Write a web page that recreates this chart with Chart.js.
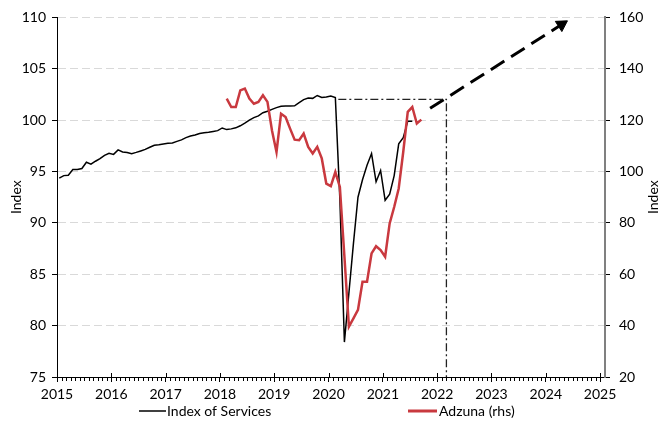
<!DOCTYPE html>
<html lang="en">
<head>
<meta charset="UTF-8">
<title>Index of Services and Adzuna</title>
<script src="https://cdn.jsdelivr.net/npm/chart.js@4.4.1/dist/chart.umd.min.js"></script>
<style>
  html, body { margin: 0; padding: 0; background: #fff; }
  #wrap { width: 665px; height: 426px; position: relative; }
</style>
</head>
<body>
<div id="wrap"><canvas id="chart"></canvas></div>
<script>
// monthly series, month index 0 = Jan 2015
const servicesStart = 0;
const servicesValues = [
  94.35, 94.6, 94.64, 95.2, 95.2, 95.29, 95.9, 95.72, 96.0, 96.25, 96.57, 96.78,
  96.67, 97.1, 96.9, 96.86, 96.74, 96.86, 97.0, 97.15, 97.36, 97.56, 97.61, 97.68,
  97.75, 97.78, 97.93, 98.08, 98.3, 98.45, 98.55, 98.7, 98.78, 98.82, 98.9, 98.98,
  99.24, 99.08, 99.15, 99.25, 99.45, 99.7, 100.0, 100.25, 100.42, 100.72, 100.87, 101.05,
  101.22, 101.35, 101.38, 101.38, 101.4, 101.7, 102.0, 102.15, 102.12, 102.4, 102.2, 102.25,
  102.35, 102.2, 92.3, 78.4, 83.2, 88.0, 92.5, 94.2, 95.6, 96.75, 94.0, 95.1,
  92.2, 92.8, 94.6, 97.7, 98.3, 99.9, 99.9
];
const adzunaStart = 37; // Feb 2018
const adzunaValues = [
  128.4, 125.1, 125.1, 131.6, 132.3, 128.4, 126.4, 127.1, 129.7, 127.1, 116.0,
  107.6, 122.5, 121.2, 116.7, 112.4, 112.2, 114.8, 109.6, 107.0, 109.6, 105.1, 95.3,
  94.3, 99.8, 94.0, 67.0, 39.6, 42.8, 46.1, 57.1, 57.1, 68.1, 70.9, 69.4,
  66.8, 79.8, 86.2, 93.4, 107.6, 123.2, 125.1, 118.7, 120.2
];

const yearTicks = [2015, 2016, 2017, 2018, 2019, 2020, 2021, 2022, 2023, 2024, 2025];
const leftTicks = [75, 80, 85, 90, 95, 100, 105, 110];
const rightTicks = [20, 40, 60, 80, 100, 120, 140, 160];

// pre-covid level carried forward, then dropped down at Mar 2022
const plateauLevel = 102.03;
const plateauFrom = 2020.18;
const plateauTo = 2022.17;
// trend arrow (left axis units)
const arrowFrom = [2021.87, 101.15];
const arrowTo = [2024.29, 109.3];

const RED = '#c9393f';

function monthly(start, values) {
  return values.map((v, i) => ({ x: 2015 + (start + i + 0.5) / 12, y: v }));
}

Chart.defaults.font.family = 'Lato, "Open Sans", sans-serif';
Chart.defaults.font.size = 14;
Chart.defaults.color = '#000';

const extras = {
  id: 'extras',
  afterDraw(chart) {
    const { ctx, chartArea } = chart;
    const xs = chart.scales.x;
    const bottom = chartArea.bottom;
    ctx.save();
    ctx.strokeStyle = '#000';
    ctx.lineWidth = 1;
    ctx.beginPath();
    for (let m = 0; m <= 120; m++) {
      const px = Math.round(xs.getPixelForValue(2015 + m / 12)) + 0.5;
      if (m % 12 === 0) {
        ctx.moveTo(px, bottom - 4);
        ctx.lineTo(px, bottom);
      } else {
        ctx.moveTo(px, bottom);
        ctx.lineTo(px, bottom + 4);
      }
    }
    ctx.stroke();

    // axis titles
    ctx.fillStyle = '#000';
    ctx.font = '14px Lato, "Open Sans", sans-serif';
    ctx.textAlign = 'center';
    ctx.textBaseline = 'middle';
    const midY = (chartArea.top + chartArea.bottom) / 2;
    [16, 653].forEach(x => {
      ctx.save();
      ctx.translate(x, midY);
      ctx.rotate(-Math.PI / 2);
      ctx.fillText('Index', 0, 0);
      ctx.restore();
    });

    // legend
    const ly = 411;
    ctx.textAlign = 'left';
    ctx.lineWidth = 1.5;
    ctx.strokeStyle = '#000';
    ctx.beginPath();
    ctx.moveTo(139, ly); ctx.lineTo(166, ly);
    ctx.stroke();
    ctx.fillText('Index of Services', 167, ly);
    ctx.lineWidth = 3;
    ctx.strokeStyle = RED;
    ctx.beginPath();
    ctx.moveTo(408, ly); ctx.lineTo(437, ly);
    ctx.stroke();
    ctx.fillText('Adzuna (rhs)', 439, ly);
    ctx.restore();
  }
};

new Chart(document.getElementById('chart'), {
  type: 'line',
  data: {
    datasets: [
      {
        label: 'Adzuna (rhs)',
        data: monthly(adzunaStart, adzunaValues),
        yAxisID: 'y2',
        borderColor: RED,
        borderWidth: 2.5,
        pointRadius: 0,
        order: 0
      },
      {
        label: 'Index of Services',
        data: monthly(servicesStart, servicesValues),
        yAxisID: 'y',
        borderColor: '#000',
        borderWidth: 1.5,
        pointRadius: 0,
        order: 1
      },
      {
        label: 'plateau',
        data: [
          { x: plateauFrom, y: plateauLevel },
          { x: plateauTo, y: plateauLevel },
          { x: plateauTo, y: 75 }
        ],
        yAxisID: 'y',
        borderColor: '#222',
        borderWidth: 1.3,
        borderDash: [8, 3, 2, 3],
        pointRadius: 0,
        order: 2
      },
      {
        label: 'trend',
        data: [
          { x: arrowFrom[0], y: arrowFrom[1] },
          { x: arrowTo[0], y: arrowTo[1] }
        ],
        yAxisID: 'y',
        borderColor: '#000',
        borderWidth: 3,
        borderDash: [16, 8],
        pointStyle: 'triangle',
        pointRadius: [0, 7],
        pointBackgroundColor: '#000',
        pointBorderColor: '#000',
        pointBorderWidth: 1,
        pointRotation: (c) => {
          const ch = c.chart;
          if (!ch.scales || !ch.scales.x || !ch.scales.y) return 57;
          const x0 = ch.scales.x.getPixelForValue(arrowFrom[0]);
          const y0 = ch.scales.y.getPixelForValue(arrowFrom[1]);
          const x1 = ch.scales.x.getPixelForValue(arrowTo[0]);
          const y1 = ch.scales.y.getPixelForValue(arrowTo[1]);
          const a = Math.atan2(y1 - y0, x1 - x0) * 180 / Math.PI + 90;
          return isFinite(a) ? a : 57;
        },
        order: 3
      }
    ]
  },
  options: {
    responsive: true,
    maintainAspectRatio: false,
    animation: false,
    layout: { padding: { top: 17, left: 0, right: 0, bottom: 0 } },
    plugins: {
      legend: { display: false },
      tooltip: { enabled: false }
    },
    scales: {
      x: {
        type: 'linear',
        min: 2015,
        max: 2025.09,
        afterBuildTicks: s => { s.ticks = yearTicks.map(v => ({ value: v })); },
        afterFit: s => { s.height = 49; },
        grid: { display: true, drawOnChartArea: false, tickLength: 5, tickColor: '#000' },
        border: { color: '#000', width: 1 },
        ticks: { padding: 4, maxRotation: 0, autoSkip: false, callback: v => String(v) }
      },
      y: {
        position: 'left',
        min: 75,
        max: 110,
        afterBuildTicks: s => { s.ticks = leftTicks.map(v => ({ value: v })); },
        afterFit: s => { s.width = 57; },
        grid: {
          color: c => (c.tick && c.tick.value === 75 ? 'rgba(0,0,0,0)' : '#d9d9d9'),
          lineWidth: 1,
          tickLength: 5,
          tickColor: '#000'
        },
        border: { color: '#000', width: 1, dash: [8, 4] },
        ticks: { padding: 6 }
      },
      y2: {
        position: 'right',
        min: 20,
        max: 160,
        afterBuildTicks: s => { s.ticks = rightTicks.map(v => ({ value: v })); },
        afterFit: s => { s.width = 60; },
        grid: { drawOnChartArea: false, tickLength: 5, tickColor: '#000' },
        border: { color: '#808080', width: 2 },
        ticks: { padding: 9 }
      }
    }
  },
  plugins: [extras]
});
</script>
</body>
</html>
